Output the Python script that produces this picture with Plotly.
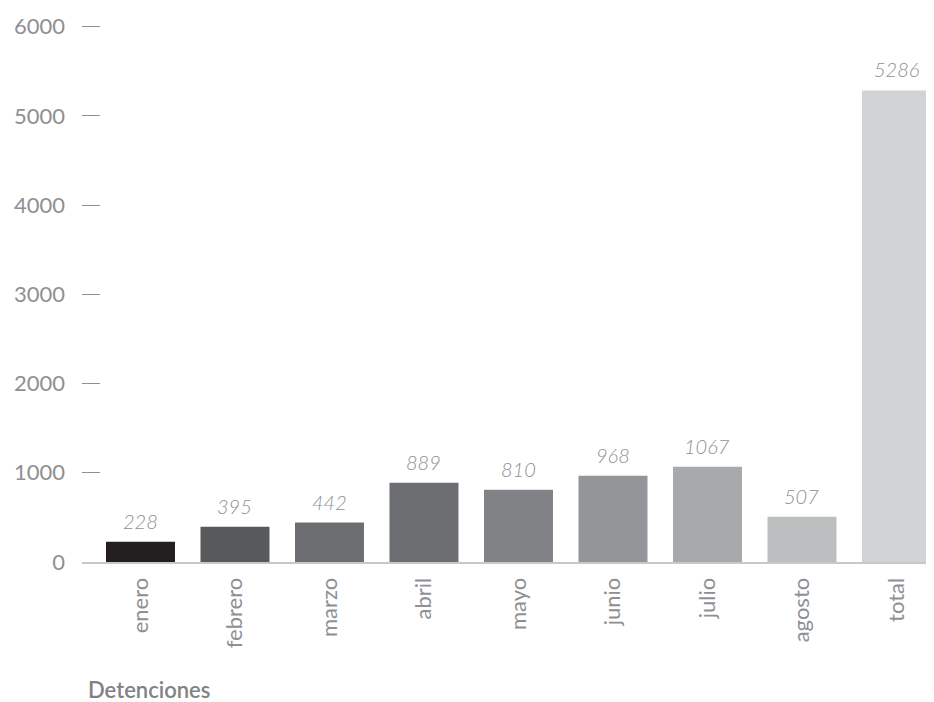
import plotly.graph_objects as go

categories = ["enero", "febrero", "marzo", "abril", "mayo", "junio", "julio", "agosto", "total"]
values = [228, 395, 442, 889, 810, 968, 1067, 507, 5286]
colors = ["#231f20", "#58595b", "#6d6e71", "#6d6e71", "#808285", "#939598", "#a7a9ac", "#bcbec0", "#d1d3d4"]
y_ticks = [0, 1000, 2000, 3000, 4000, 5000, 6000]
title_text = "Detenciones"

FONT = "Lato"
GREY = "#8e9093"

# The page body has an 8px margin; figure coordinates are offset by it.
OFF = 8
W, H = 934 - OFF, 702 - OFF
ml, mr, mt, mb = 82 - OFF, 0, 24 - OFF, H - (562 - OFF)

fig = go.Figure()
fig.add_trace(go.Bar(
    x=list(range(len(categories))),
    y=values,
    marker=dict(color=colors, line=dict(width=0)),
    width=0.73,
    hoverinfo="skip",
))

for i, v in enumerate(values):
    fig.add_annotation(
        x=i, y=v, xref="x", yref="y",
        text=str(v), showarrow=False,
        yanchor="bottom", yshift=7,
        font=dict(family=FONT, size=20, color=GREY, style="italic", weight=300),
    )

plot_w = W - ml - mr
plot_h = H - mt - mb
fig.add_annotation(
    x=(86 - OFF - ml) / plot_w, y=(H - mb - (689 - OFF)) / plot_h,
    xref="paper", yref="paper",
    text=title_text, showarrow=False, xanchor="left", yanchor="middle",
    font=dict(family=FONT, size=22, color="#808285", weight=600),
)

fig.update_layout(
    width=W, height=H,
    margin=dict(l=ml, r=mr, t=mt, b=mb),
    paper_bgcolor="white", plot_bgcolor="white",
    showlegend=False,
    xaxis=dict(
        range=[-0.619, 8.397],
        tickmode="array", tickvals=list(range(len(categories))), ticktext=categories,
        tickangle=-90,
        tickfont=dict(family=FONT, size=22, color=GREY, weight=400),
        showgrid=False, zeroline=False,
        showline=True, linecolor="#c7c8ca", linewidth=2,
        ticks="", ticklabelstandoff=5,
    ),
    yaxis=dict(
        range=[0, 6030],
        tickmode="array", tickvals=y_ticks, ticktext=[str(t) for t in y_ticks],
        tickfont=dict(family=FONT, size=22, color=GREY, weight=400),
        showgrid=False, zeroline=False, showline=False,
        ticks="inside", ticklen=18, tickwidth=1, tickcolor=GREY,
        ticklabelstandoff=16,
    ),
)

fig.write_html("out.html")
